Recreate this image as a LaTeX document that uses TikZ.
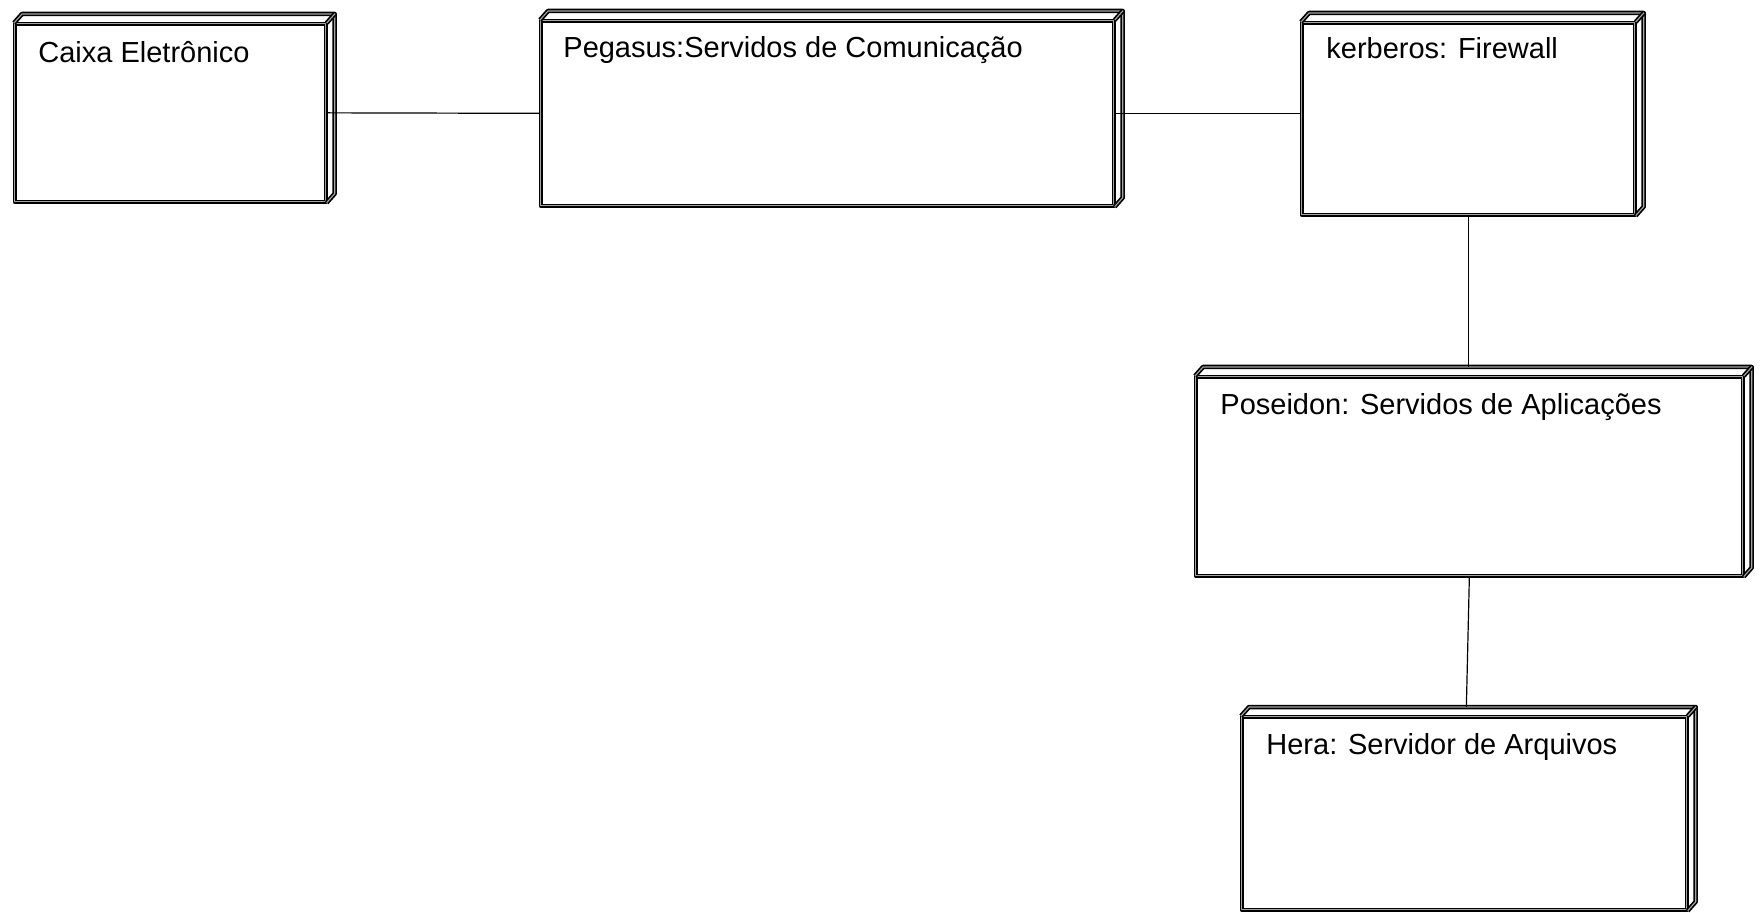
\documentclass[tikz,border=0pt]{standalone}
\usepackage{fontspec}
\setmainfont{Liberation Sans}
\usetikzlibrary{positioning, calc}

\tikzset{
  edge/.style={draw=black, line width=0.85pt, double=black!35, double distance=0.55pt, line join=round},
  depl/.style={rectangle, edge, anchor=north west, inner sep=0pt},
  txt/.style={anchor=base west, inner sep=0pt, font=\fontsize{14.5}{17}\selectfont},
  conn/.style={draw=black, line width=0.6pt}
}

\begin{document}
\begin{tikzpicture}[x=0.5pt, y=-0.5pt]
                    \useasboundingbox (0,0) rectangle (1760,913);
                    % nodes (front faces)
                    \node[depl, minimum width=155.5pt, minimum height=89pt] (caixa) at (14,23) {};
                    \node[depl, minimum width=286.5pt, minimum height=92.5pt] (pegasus) at (540,20) {};
                    \node[depl, minimum width=166.5pt, minimum height=96pt] (kerberos) at (1301,22) {};
                    \node[depl, minimum width=273.5pt, minimum height=99.5pt] (poseidon) at (1195,376) {};
                    \node[depl, minimum width=222.5pt, minimum height=96.5pt] (hera) at (1241,716) {};
                    % depth of the boxes
                    \foreach \n in {caixa,pegasus,kerberos,poseidon,hera}{
                      \draw[edge] (\n.north west) -- ++(8,-9) -- ($(\n.north east)+(8,-9)$)
                                  -- ($(\n.south east)+(8,-9)$) -- (\n.south east);
                      \draw[edge] (\n.north east) -- ++(8,-9);
                    }
                    % names
                    \node[txt] (caixa-t) at ($(caixa.north west)+(24,40)$) {Caixa Eletrônico};
                    \node[txt] (pegasus-t) at ($(pegasus.north west)+(23,38)$) {Pegasus:Servidos de Comunicação};
                    \node[txt] (kerberos-t) at ($(kerberos.north west)+(25,37)$) {kerberos: Firewall};
                    \node[txt] (poseidon-t) at ($(poseidon.north west)+(25,39)$) {Poseidon: Servidos de Aplicações};
                    \node[txt] (hera-t) at ($(hera.north west)+(25,38)$) {Hera: Servidor de Arquivos};
                    % links
                    \coordinate (poseidon-top) at ($(poseidon.north)+(0,-9)$);
                    \coordinate (hera-top) at ($(hera.north)+(2,-9)$);
                    \draw[conn] (caixa.east) -- (pegasus.west);
                    \draw[conn] (pegasus.east) -- (pegasus.east -| kerberos.west);
                    \draw[conn] (kerberos.south) -- (kerberos.south |- poseidon-top);
                    \draw[conn] (poseidon.south) -- (hera-top);
               \end{tikzpicture}
\end{document}
